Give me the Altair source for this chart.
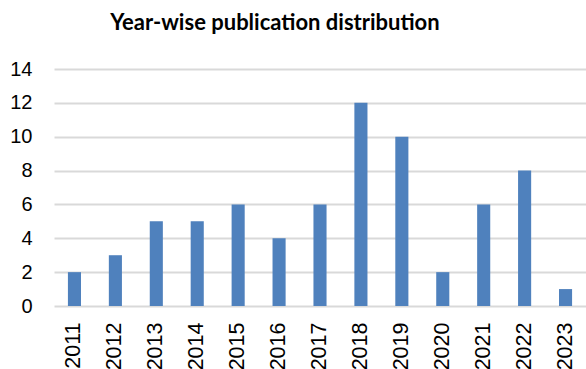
import altair as alt
import pandas as pd

years = ["2011", "2012", "2013", "2014", "2015", "2016", "2017",
         "2018", "2019", "2020", "2021", "2022", "2023"]
counts = [2, 3, 5, 5, 6, 4, 6, 12, 10, 2, 6, 8, 1]

df = pd.DataFrame({"year": years, "count": counts})

chart = alt.Chart(df).mark_bar(color="#4F81BD").encode(
    x=alt.X("year:N", sort=years, title=None,
            scale=alt.Scale(paddingInner=0.68, paddingOuter=0.34),
            axis=alt.Axis(labelAngle=-90, labelFont="Liberation Sans", labelFontSize=21.5,
                          labelColor="#000000", ticks=False, domain=False,
                          labelPadding=16, labelBaseline="middle", labelAlign="right")),
    y=alt.Y("count:Q", title=None,
            scale=alt.Scale(domain=[0, 14], nice=False),
            axis=alt.Axis(values=[0, 2, 4, 6, 8, 10, 12, 14], labelFont="Liberation Sans",
                          labelFontSize=20, labelColor="#000000", ticks=False, domain=False,
                          labelPadding=22, gridColor="#d9d9d9", gridWidth=2)),
).properties(
    width=532, height=237,
    title=alt.TitleParams("Year-wise publication distribution", font="Lato",
                          fontSize=22, fontWeight="bold", color="#000000",
                          anchor="middle", dx=-45, offset=7, baseline="alphabetic"),
    autosize=alt.AutoSizeParams(type="none"),
    padding={"left": 54, "top": 69, "right": 0, "bottom": 63},
).configure_view(stroke=None)

chart.save("out.html", embed_options={"renderer": "svg", "actions": False})
